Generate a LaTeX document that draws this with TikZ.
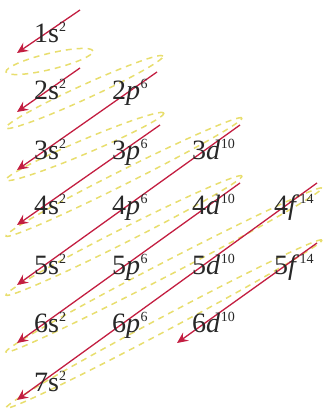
\documentclass[tikz,border=0pt]{standalone}
\usepackage{fontspec}
\setmainfont{Liberation Serif}
\usetikzlibrary{arrows.meta}
\definecolor{arrred}{RGB}{195,30,65}
\definecolor{elly}{RGB}{232,222,110}
\definecolor{txt}{RGB}{40,40,40}
\newcommand\supnum[1]{\raisebox{0.40em}{\fontsize{14}{14}\selectfont #1}}
\newcommand\orbU[3]{#1#2\supnum{#3}}
\newcommand\orbI[3]{#1\textit{#2}\kern0.5pt\supnum{#3}}
\tikzset{
  lab/.style={anchor=base west, inner sep=0pt, font=\fontsize{28}{28}\selectfont, text=txt},
  ell/.style={draw=elly, line width=1.5pt, dash pattern=on 6pt off 5pt},
  arr/.style={draw=arrred, line width=1.3pt, -{Stealth[length=11pt,width=10pt,inset=4pt]}}
}
\begin{document}
\begin{tikzpicture}[x=1pt,y=1pt]
\useasboundingbox (0,0) rectangle (324,414);
% dashed ellipses
\draw[ell, rotate around={13.6:(49.5,352.5)}] (49.5,352.5) ellipse (44.7 and 8);
\draw[ell, rotate around={24.6:(84.5,322)}] (84.5,322) ellipse (86.4 and 7);
\draw[ell, rotate around={23.0:(85,267.5)}] (85,267.5) ellipse (85.8 and 7);
\draw[ell, rotate around={26.6:(124,237)}] (124,237) ellipse (131.9 and 7);
\draw[ell, rotate around={26.8:(124,178.5)}] (124,178.5) ellipse (132.2 and 7);
\draw[ell, rotate around={27.4:(164,144)}] (164,144) ellipse (178.0 and 7);
\draw[ell, rotate around={28.0:(164,90)}] (164,90) ellipse (178.9 and 7);
% arrow end points
\coordinate (a1s) at (80,404);  \coordinate (a1e) at (17,361);
\coordinate (a2s) at (80,346);  \coordinate (a2e) at (17,302);
\coordinate (a3s) at (157,342); \coordinate (a3e) at (17,244);
\coordinate (a4s) at (160,289); \coordinate (a4e) at (17,189);
\coordinate (a5s) at (240,289); \coordinate (a5e) at (17,129);
\coordinate (a6s) at (240,231); \coordinate (a6e) at (17,71);
\coordinate (a7s) at (317,231); \coordinate (a7e) at (17,14);
\coordinate (a8s) at (317,171); \coordinate (a8e) at (177,71);
\foreach \i in {1,...,8}{\draw[arr] (a\i s) -- (a\i e);}
% labels
\node[lab] (s1) at (34,371) {\orbU{1}{s}{2}};
\node[lab] (s2) at (34,314) {\orbU{2}{s}{2}};
\node[lab] (s3) at (34,254) {\orbU{3}{s}{2}};
\node[lab] (s4) at (34,199) {\orbU{4}{s}{2}};
\node[lab] (s5) at (34,139) {\orbU{5}{s}{2}};
\node[lab] (s6) at (34,81)  {\orbU{6}{s}{2}};
\node[lab] (s7) at (34,22)  {\orbU{7}{s}{2}};
\node[lab] (p2) at (112,314) {\orbI{2}{p}{6}};
\node[lab] (p3) at (112,254) {\orbI{3}{p}{6}};
\node[lab] (p4) at (112,199) {\orbI{4}{p}{6}};
\node[lab] (p5) at (112,139) {\orbI{5}{p}{6}};
\node[lab] (p6) at (112,81)  {\orbI{6}{p}{6}};
\node[lab] (d3) at (192,254) {\orbI{3}{d}{10}};
\node[lab] (d4) at (192,199) {\orbI{4}{d}{10}};
\node[lab] (d5) at (192,139) {\orbI{5}{d}{10}};
\node[lab] (d6) at (192,81)  {\orbI{6}{d}{10}};
\node[lab] (f4) at (274,199) {\orbI{4}{f}{14}};
\node[lab] (f5) at (274,139) {\orbI{5}{f}{14}};
\end{tikzpicture}
\end{document}
